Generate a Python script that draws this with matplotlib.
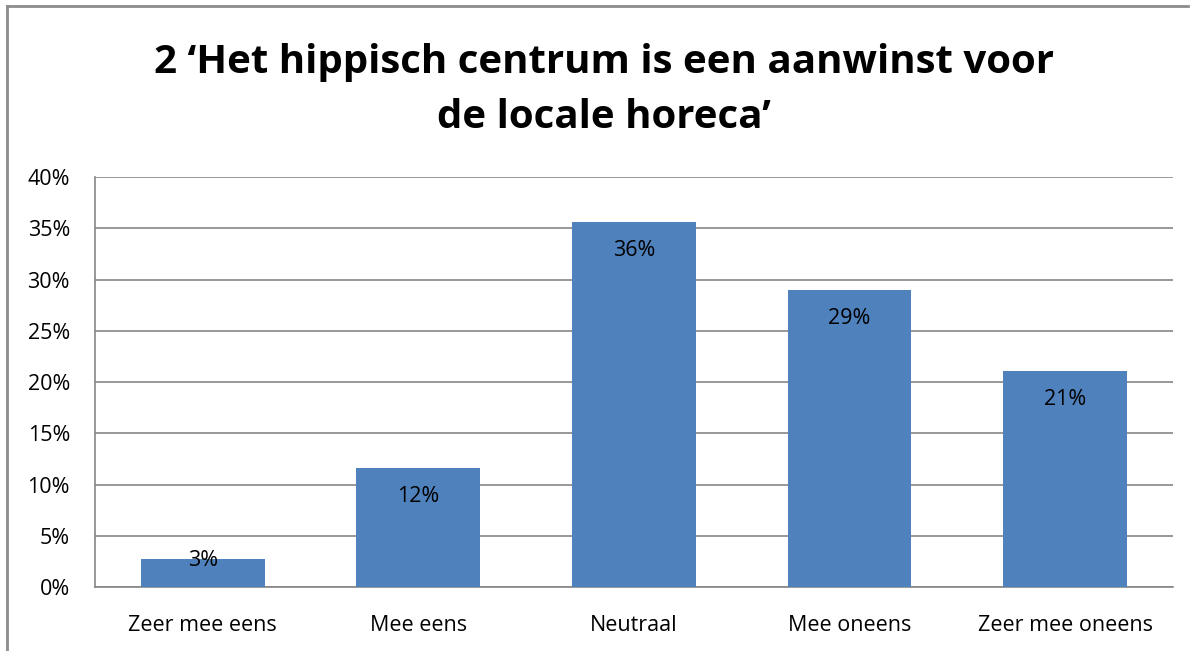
import matplotlib.pyplot as plt
from matplotlib.lines import Line2D
from matplotlib.ticker import PercentFormatter

categories = ['Zeer mee eens', 'Mee eens', 'Neutraal', 'Mee oneens', 'Zeer mee oneens']
values = [2.7, 11.6, 35.6, 29.0, 21.1]
yticks = [0, 5, 10, 15, 20, 25, 30, 35, 40]
title = '2 \u2018Het hippisch centrum is een aanwinst voor\nde locale horeca\u2019'

plt.rcParams['font.family'] = ['Open Sans', 'DejaVu Sans']

fig = plt.figure(figsize=(11.98, 6.51), dpi=100)
ax = fig.add_axes([0.0793, 0.0983, 0.8997, 0.6297])

x = range(len(categories))
ax.bar(x, values, width=0.575, color='#4F81BD', zorder=3)

for i, v in enumerate(values):
    ly = v - 2.8 if v > 6 else v - 0.1
    ax.text(i, ly, f'{v:.0f}%', ha='center', va='center', fontsize=15.5, zorder=4)

ax.set_ylim(0, 40)
ax.set_xlim(-0.5, len(categories) - 0.5)
ax.set_yticks(yticks)
ax.yaxis.set_major_formatter(PercentFormatter(decimals=0))
ax.set_xticks(list(x))
ax.set_xticklabels(categories)
ax.tick_params(axis='both', length=0, labelsize=15.5)
ax.tick_params(axis='x', pad=20)
ax.tick_params(axis='y', pad=18)
ax.grid(axis='y', color='#868686', linewidth=1.2, zorder=0)
for s in ['top', 'right']:
    ax.spines[s].set_visible(False)
for s in ['left', 'bottom']:
    ax.spines[s].set_color('#868686')
    ax.spines[s].set_linewidth(1.2)

fig.text(0.504, 0.862, title, ha='center', va='center', fontsize=29,
         fontweight='bold', linespacing=1.55)

# outer chart border
fig.add_artist(Line2D([7/1198, 7/1198], [0, 1 - 6/651], color='#8c8c8c', lw=2))
fig.add_artist(Line2D([7/1198, 1188/1198], [1 - 6/651, 1 - 6/651], color='#8c8c8c', lw=2))

fig.savefig('out.png', dpi=100)
